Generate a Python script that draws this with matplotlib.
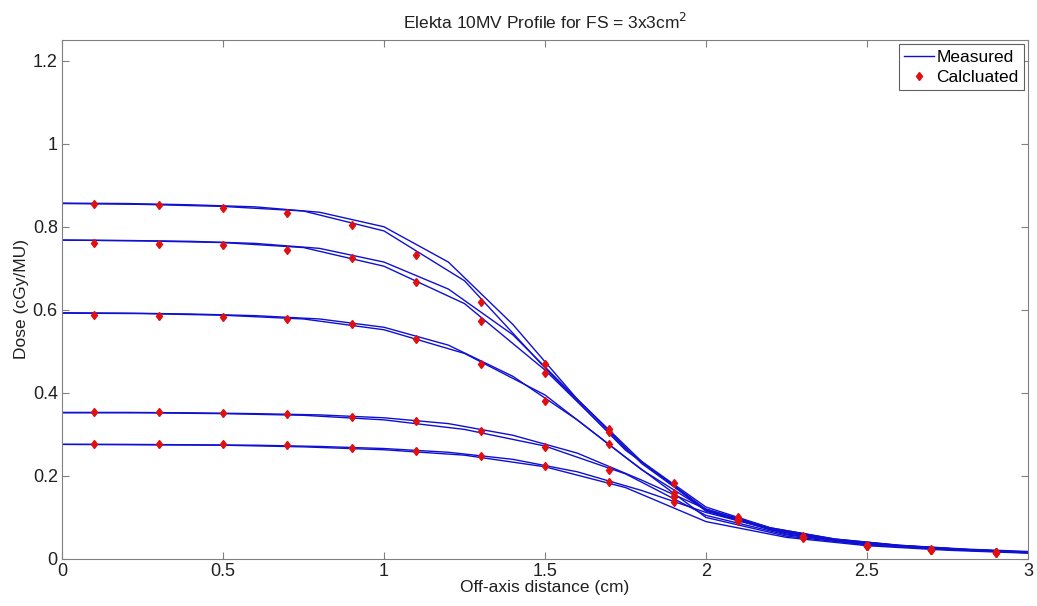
import matplotlib
matplotlib.use("Agg")
import matplotlib.pyplot as plt

plt.rcParams['font.family'] = ['Liberation Sans', 'DejaVu Sans']

# measured profiles, two scans per depth, on two sampling grids
x_meas_a = [0, 0.2, 0.4, 0.6, 0.8, 1.0, 1.2, 1.4, 1.6, 1.8, 2.0, 2.2, 2.4, 2.6, 2.8, 3.0]
x_meas_b = [0, 0.25, 0.5, 0.75, 1.0, 1.25, 1.5, 1.75, 2.0, 2.25, 2.5, 2.75, 3.0]

meas_a = [
    [0.857, 0.856, 0.853, 0.848, 0.835, 0.800, 0.715, 0.565, 0.385, 0.235, 0.125, 0.075, 0.048, 0.033, 0.024, 0.018],
    [0.768, 0.767, 0.765, 0.760, 0.748, 0.715, 0.650, 0.540, 0.385, 0.230, 0.118, 0.070, 0.045, 0.031, 0.022, 0.016],
    [0.593, 0.592, 0.590, 0.586, 0.578, 0.558, 0.515, 0.440, 0.335, 0.215, 0.118, 0.072, 0.046, 0.032, 0.023, 0.016],
    [0.353, 0.353, 0.352, 0.350, 0.347, 0.340, 0.326, 0.298, 0.255, 0.190, 0.120, 0.075, 0.048, 0.033, 0.023, 0.016],
    [0.276, 0.276, 0.275, 0.274, 0.271, 0.266, 0.257, 0.240, 0.210, 0.165, 0.112, 0.072, 0.047, 0.032, 0.023, 0.016],
]
meas_b = [
    [0.856, 0.854, 0.849, 0.838, 0.790, 0.670, 0.460, 0.262, 0.120, 0.063, 0.036, 0.024, 0.017],
    [0.768, 0.766, 0.762, 0.750, 0.705, 0.615, 0.455, 0.265, 0.115, 0.060, 0.036, 0.024, 0.016],
    [0.592, 0.591, 0.587, 0.578, 0.552, 0.495, 0.395, 0.245, 0.100, 0.055, 0.034, 0.023, 0.015],
    [0.352, 0.352, 0.350, 0.346, 0.335, 0.312, 0.272, 0.205, 0.105, 0.058, 0.035, 0.023, 0.015],
    [0.276, 0.275, 0.274, 0.270, 0.263, 0.250, 0.222, 0.172, 0.090, 0.052, 0.032, 0.021, 0.014],
]

# calculated points
x_calc = [0.1, 0.3, 0.5, 0.7, 0.9, 1.1, 1.3, 1.5, 1.7, 1.9, 2.1, 2.3, 2.5, 2.7, 2.9]
calc = [
    [0.856, 0.853, 0.846, 0.834, 0.805, 0.733, 0.620, 0.469, 0.312, 0.183, 0.100, 0.056, 0.034, 0.024, 0.017],
    [0.760, 0.758, 0.755, 0.745, 0.724, 0.668, 0.574, 0.449, 0.305, 0.160, 0.097, 0.054, 0.032, 0.022, 0.016],
    [0.587, 0.586, 0.583, 0.577, 0.565, 0.529, 0.469, 0.380, 0.276, 0.151, 0.095, 0.053, 0.032, 0.022, 0.016],
    [0.353, 0.353, 0.352, 0.350, 0.342, 0.332, 0.308, 0.269, 0.214, 0.149, 0.093, 0.052, 0.031, 0.021, 0.015],
    [0.277, 0.277, 0.276, 0.274, 0.268, 0.261, 0.248, 0.223, 0.185, 0.137, 0.091, 0.051, 0.031, 0.021, 0.015],
]

fig = plt.figure(figsize=(10.37, 6.06), dpi=100)
ax = fig.add_axes([0.0598, 0.0776, 0.9315, 0.8565])

for i in range(len(meas_a)):
    lab = 'Measured' if i == 0 else None
    ax.plot(x_meas_a, meas_a[i], color='#1010d0', lw=1.0, label=lab)
    ax.plot(x_meas_b, meas_b[i], color='#1010d0', lw=1.0)
for i in range(len(calc)):
    lab = 'Calcluated' if i == 0 else None
    ax.plot(x_calc, calc[i], 'd', color='#e01010', ms=4.5, mec='#e01010', label=lab, zorder=3)

ax.set_xlim(0, 3)
ax.set_ylim(0, 1.25)
ax.set_xticks([0, 0.5, 1, 1.5, 2, 2.5, 3])
ax.set_xticklabels(['0', '0.5', '1', '1.5', '2', '2.5', '3'])
ax.set_yticks([0, 0.2, 0.4, 0.6, 0.8, 1, 1.2])
ax.set_yticklabels(['0', '0.2', '0.4', '0.6', '0.8', '1', '1.2'])
ax.tick_params(direction='in', length=5, color='#808080', labelsize=13, labelcolor='#202020', top=True, right=True, pad=3)
for s in ax.spines.values():
    s.set_color('#808080')

ax.set_xlabel('Off-axis distance (cm)', fontsize=12.5, labelpad=0, color='#202020')
ax.set_ylabel('Dose (cGy/MU)', fontsize=12.5, labelpad=3, color='#202020')
ax.set_title('Elekta 10MV Profile for FS = 3x3cm$^2$', fontsize=12.5, pad=8, color='#202020')

leg = ax.legend(loc='upper right', fontsize=12.5, fancybox=False, framealpha=1,
                edgecolor='#606060', handlelength=1.7, handletextpad=0.15,
                borderaxespad=0.25, borderpad=0.3, labelspacing=0.3)
leg.get_frame().set_linewidth(0.8)

fig.savefig('out.png', dpi=100)
